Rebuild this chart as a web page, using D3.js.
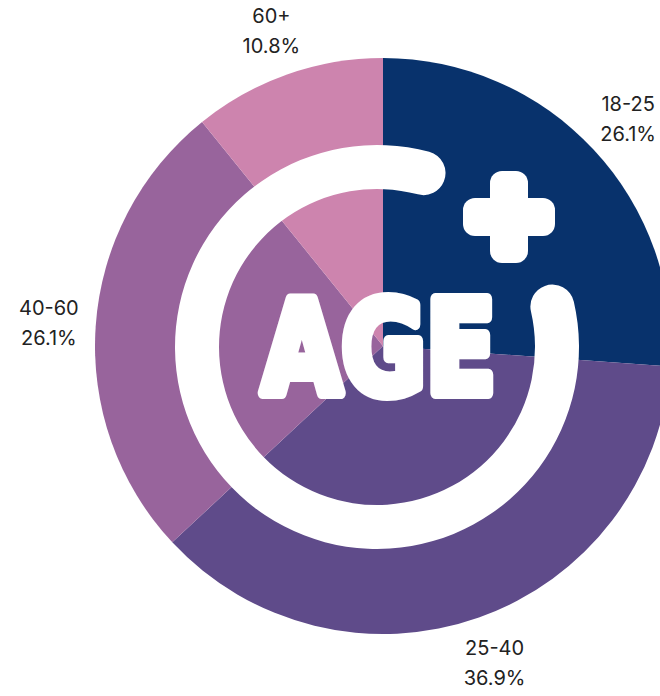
<!DOCTYPE html>
<html>
<head>
<meta charset="utf-8">
<script src="https://cdn.jsdelivr.net/npm/d3@7"></script>
<style>
  body { margin: 0; background: #fff; }
  svg { display: block; }
</style>
</head>
<body>
<script>
const groups = ['18-25', '25-40', '40-60', '60+']
const shares = [26.1, 36.9, 26.1, 10.8]
const colors = ['#08326c', '#5f4b8a', '#98649c', '#cd84ae']

const width = 660
const height = 696
const cx = 383
const cy = 346
const radius = 288
const labelRadius = 335

const data = groups.map((g, i) => ({ group: g, value: shares[i], color: colors[i] }))

const svg = d3.select('body').append('svg')
  .attr('width', width)
  .attr('height', height)

const g = svg.append('g')
  .attr('transform', `translate(${cx}, ${cy})`)

const pie = d3.pie()
  .value(d => d.value)
  .sort(null)

const arc = d3.arc()
  .innerRadius(0)
  .outerRadius(radius)

const arcs = pie(data)

g.selectAll('.slice')
  .data(arcs)
  .enter().append('path')
  .attr('class', 'slice')
  .attr('d', arc)
  .style('fill', d => d.data.color)

// labels outside the slices
const labelArc = d3.arc()
  .innerRadius(labelRadius)
  .outerRadius(labelRadius)

const labels = g.selectAll('.label')
  .data(arcs)
  .enter().append('text')
  .attr('class', 'label')
  .attr('text-anchor', 'middle')
  .style('font-family', 'Inter, "Noto Sans", sans-serif')
  .style('font-size', '20px')
  .style('fill', '#222')

labels.append('tspan')
  .attr('x', d => labelArc.centroid(d)[0])
  .attr('y', d => labelArc.centroid(d)[1] - 7)
  .text(d => d.data.group)

labels.append('tspan')
  .attr('x', d => labelArc.centroid(d)[0])
  .attr('y', d => labelArc.centroid(d)[1] + 23)
  .text(d => d.data.value.toFixed(1) + '%')

// white "age +" icon over the pie
const icon = svg.append('g')
  .attr('class', 'icon')
  .style('fill', '#fff')

const ring = d3.arc()
  .innerRadius(158)
  .outerRadius(202)
  .cornerRadius(22)
  .startAngle(70 * Math.PI / 180)
  .endAngle(382 * Math.PI / 180)

icon.append('path')
  .attr('transform', 'translate(377, 347)')
  .attr('d', ring())

icon.append('rect')
  .attr('x', 509 - 46).attr('y', 217 - 19)
  .attr('width', 92).attr('height', 38)
  .attr('rx', 12)
icon.append('rect')
  .attr('x', 509 - 19).attr('y', 217 - 46)
  .attr('width', 38).attr('height', 92)
  .attr('rx', 12)

icon.append('text')
  .attr('x', 262)
  .attr('y', 393)
  .attr('textLength', 234)
  .attr('lengthAdjust', 'spacingAndGlyphs')
  .style('font-family', '"DejaVu Sans", sans-serif')
  .style('font-weight', 'bold')
  .style('font-size', '128px')
  .style('stroke', '#fff')
  .style('stroke-width', 12)
  .style('stroke-linejoin', 'round')
  .text('AGE')
</script>
</body>
</html>
